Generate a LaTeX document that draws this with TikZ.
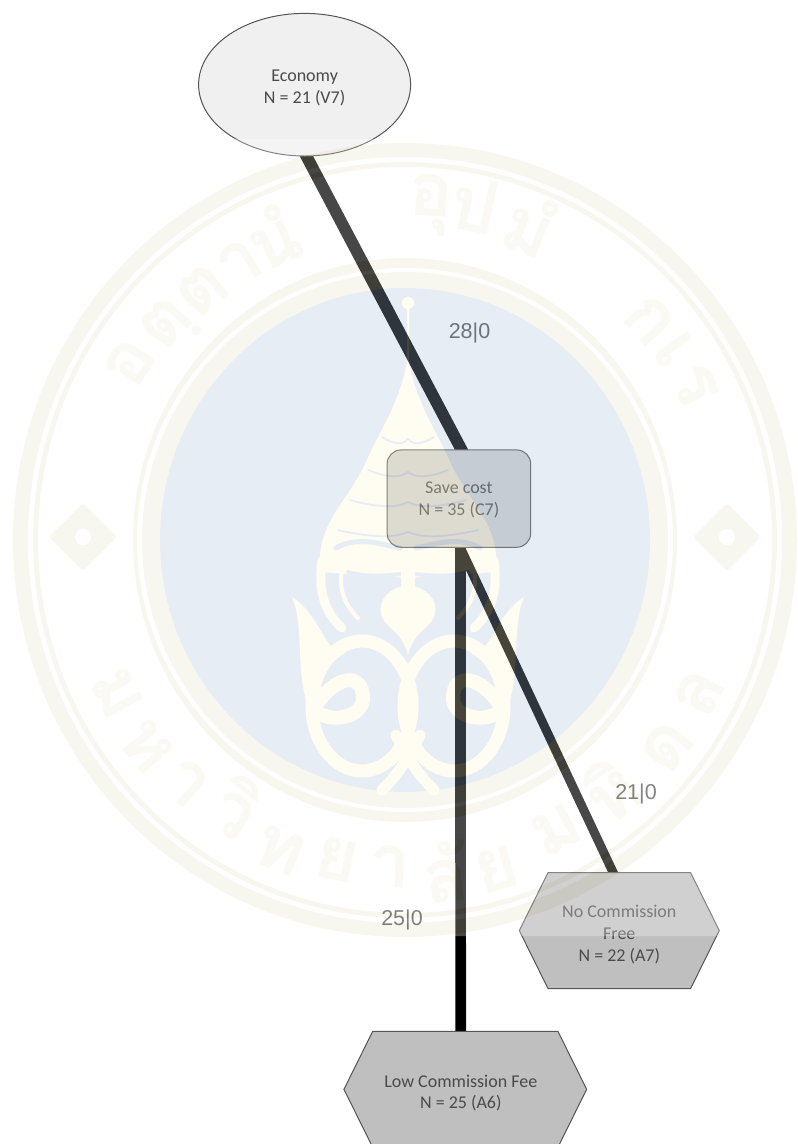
\documentclass[tikz,border=0pt]{standalone}
\usepackage{fontspec}
\setmainfont{Carlito}
\newfontfamily\arialfont{Liberation Sans}
\newfontfamily\thaifont[Script=Thai]{Loma}
\usetikzlibrary{shapes.geometric,shapes.symbols,backgrounds}
\definecolor{nodeline}{HTML}{555555}
\definecolor{nodetext}{HTML}{4A4A4A}
\definecolor{edgetext}{HTML}{555555}
\definecolor{sealring}{RGB}{233,228,200}
\definecolor{sealtext}{RGB}{240,236,212}
\definecolor{sealdisk}{RGB}{172,192,222}
\definecolor{sealcream}{RGB}{255,246,208}
\newcommand{\dropfirst}[1]{\rule{0pt}{#1}}
\tikzset{
  every node/.style={font=\fontsize{18}{21.7}\selectfont, text=nodetext, align=center, inner sep=0pt},
  oval/.style={shape=ellipse, draw=nodeline, line width=1pt, fill=black!6, minimum width=212pt, minimum height=142.6pt},
  roundbox/.style={shape=rectangle, rounded corners=14pt, draw=nodeline, line width=1pt, fill=black!18, minimum width=143.6pt, minimum height=97.3pt},
  hexa/.style={shape=signal, signal to=east and west, signal pointer angle=127.3, draw=nodeline, line width=1pt, fill=black!25, minimum height=115.8pt},
  link/.style={draw=black, line cap=butt},
  edgelabel/.style={font=\arialfont\fontsize{21.5}{24}\selectfont, text=edgetext},
  sealglyph/.style={font=\thaifont\bfseries\fontsize{74}{74}\selectfont, text=sealtext},
  creamline/.style={draw=sealcream, line cap=round, line join=round},
  diskline/.style={draw=sealdisk, line cap=round, line join=round}
}
\newcommand{\motifhalf}{%
  % conch crown
  \fill[sealcream] (0,355) .. controls (-6,400) and (-28,430) .. (-42,462)
     .. controls (-58,497) and (-86,520) .. (-88,556)
     -- (-88,572) -- (0,578) -- cycle;
  % tiers of the crown
  \foreach \yy/\ww in {437/26,470/40,500/58,530/70}{
    \draw[diskline, line width=1.8pt] (-\ww,\yy) .. controls (-\ww*.5,\yy+8) and (-\ww*.2,\yy+8) .. (0,\yy+2);
  }
  \draw[diskline, line width=5pt] (-72,548) .. controls (-50,535) and (-25,545) .. (-8,548);
  \draw[diskline, line width=4pt] (-60,572) .. controls (-40,578) and (-20,575) .. (-5,574);
  % sides running down from the crown
  \draw[creamline, line width=9pt] (-86,560) .. controls (-90,590) and (-84,612) .. (-66,628);
  \draw[creamline, line width=4pt] (-66,570) .. controls (-70,590) and (-62,606) .. (-50,618);
  % stem and central drop
  \fill[sealcream] (-7,570) rectangle (0,600);
  \fill[sealcream] (0,586) .. controls (-18,586) and (-30,600) .. (-27,614)
     .. controls (-24,628) and (-6,630) .. (0,655) -- cycle;
  % side flame
  \fill[sealcream] (-116,597) .. controls (-98,608) and (-92,625) .. (-78,645)
     -- (-62,652) .. controls (-85,668) and (-100,680) .. (-102,700)
     .. controls (-112,665) and (-104,625) .. (-116,597) -- cycle;
  % loop and curl
  \draw[creamline, line width=13pt] (-46,706) ellipse [x radius=50pt, y radius=65pt];
  \draw[creamline, line width=14pt] (-92,705) .. controls (-72,675) and (-45,672) .. (-45,698)
     .. controls (-45,715) and (-70,722) .. (-85,715);
  % crossing
  \draw[creamline, line width=11pt] (-12,735) .. controls (-2,755) and (10,775) .. (26,790);
  % spire
  \fill[sealcream] (0,303) circle [radius=6pt];
  \draw[creamline, line width=2pt] (0,303) -- (0,360);
}
\begin{document}
\begin{tikzpicture}[x=1pt,y=-1pt]
\useasboundingbox (0,0) rectangle (798,1144);

\node[oval] (economy) at (304.6,84.7) {\dropfirst{18pt}Economy\\N = 21 (V7)};
\node[roundbox] (savecost) at (458.9,498.6) {\dropfirst{14pt}Save cost\\N = 35 (C7)};
\node[hexa, minimum width=200pt] (nofree) at (619.3,930.6) {\dropfirst{20pt}No Commission\\Free\\N = 22 (A7)};
\node[hexa, minimum width=242.7pt] (lowfee) at (465.3,1089.3) {\dropfirst{20pt}Low Commission Fee\rule{9pt}{0pt}\\N = 25 (A6)\rule{9pt}{0pt}};

\node[edgelabel] (l28) at (469.5,333) {28|0};
\node[edgelabel] (l21) at (636,794) {21|0};
\node[edgelabel] (l25) at (402,920) {25|0};

\begin{scope}[on background layer]
  \fill[white] (0,0) rectangle (798,1144);
  \draw[link, line width=11.8pt, shorten <=-6pt, shorten >=-6pt] ([xshift=2pt]economy.south) -- ([xshift=2.5pt]savecost.north);
  \draw[link, line width=10.7pt, shorten <=-3pt, shorten >=-3pt] ([xshift=1.5pt]savecost.south) -- ([xshift=-4.6pt]lowfee.north);
  \draw[link, line width=9pt, shorten <=-3pt, shorten >=-6pt] ([xshift=1.5pt]savecost.south) -- ([xshift=-6.3pt]nofree.north);
\end{scope}

% pale seal lying over the whole diagram
\begin{scope}[transparency group, opacity=.28]
  \clip (0,139) rectangle (798,936);
  \fill[white] (0,139) rectangle (798,936);
  \fill[sealring, even odd rule] (405,540) ellipse [x radius=392pt, y radius=397pt] (405,540) ellipse [x radius=377pt, y radius=383pt];
  \fill[sealring, even odd rule] (405,540) ellipse [x radius=372pt, y radius=378pt] (405,540) ellipse [x radius=367pt, y radius=373pt];
  \fill[sealring, even odd rule] (405,540) ellipse [x radius=272pt, y radius=282pt] (405,540) ellipse [x radius=268pt, y radius=272pt];
  \fill[sealring] (405,540) ellipse [x radius=263pt, y radius=268pt];
  \fill[sealdisk] (405,540) ellipse [x radius=245pt, y radius=252pt];
  \begin{scope}[shift={(408,0)}]\motifhalf\end{scope}
  \begin{scope}[shift={(408,0)}, xscale=-1]\motifhalf\end{scope}
  % diamonds
  \foreach \dx/\dn in {83/dl,727/dr}{
    \node[shape=rectangle, rounded corners=3pt, rotate=45, fill=sealring, minimum width=48pt, minimum height=48pt] (\dn) at (\dx,537) {};
    \fill[white] (\dx,537) circle [radius=8pt];
  }
  % motto along the upper arc
  \foreach \gx/\gy/\gt [count=\gi] in {130/363/อ,170/327/ตฺ,202/290/ต,240/263/า,273/237/นํ,430/205/อุ,475/205/ป,530/225/มํ,650/320/ก,675/350/เ,695/385/ร}{
    \pgfmathsetmacro{\ga}{atan2(540-\gy,\gx-405)-90}
    \node[sealglyph, rotate=\ga] (up\gi) at (\gx,\gy) {\gt};
  }
  % name along the lower arc
  \foreach \gx/\gy/\gt [count=\gi] in {117/693/ม,147/747/ห,187/783/า,237/807/วิ,280/850/ท,337/860/ย,390/867/า,445/872/ลั,497/870/ย,557/830/ม,610/790/หิ,667/747/ด,700/693/ล}{
    \pgfmathsetmacro{\ga}{atan2(540-\gy,\gx-405)+90}
    \node[sealglyph, rotate=\ga] (lo\gi) at (\gx,\gy) {\gt};
  }
\end{scope}
\end{tikzpicture}
\end{document}
